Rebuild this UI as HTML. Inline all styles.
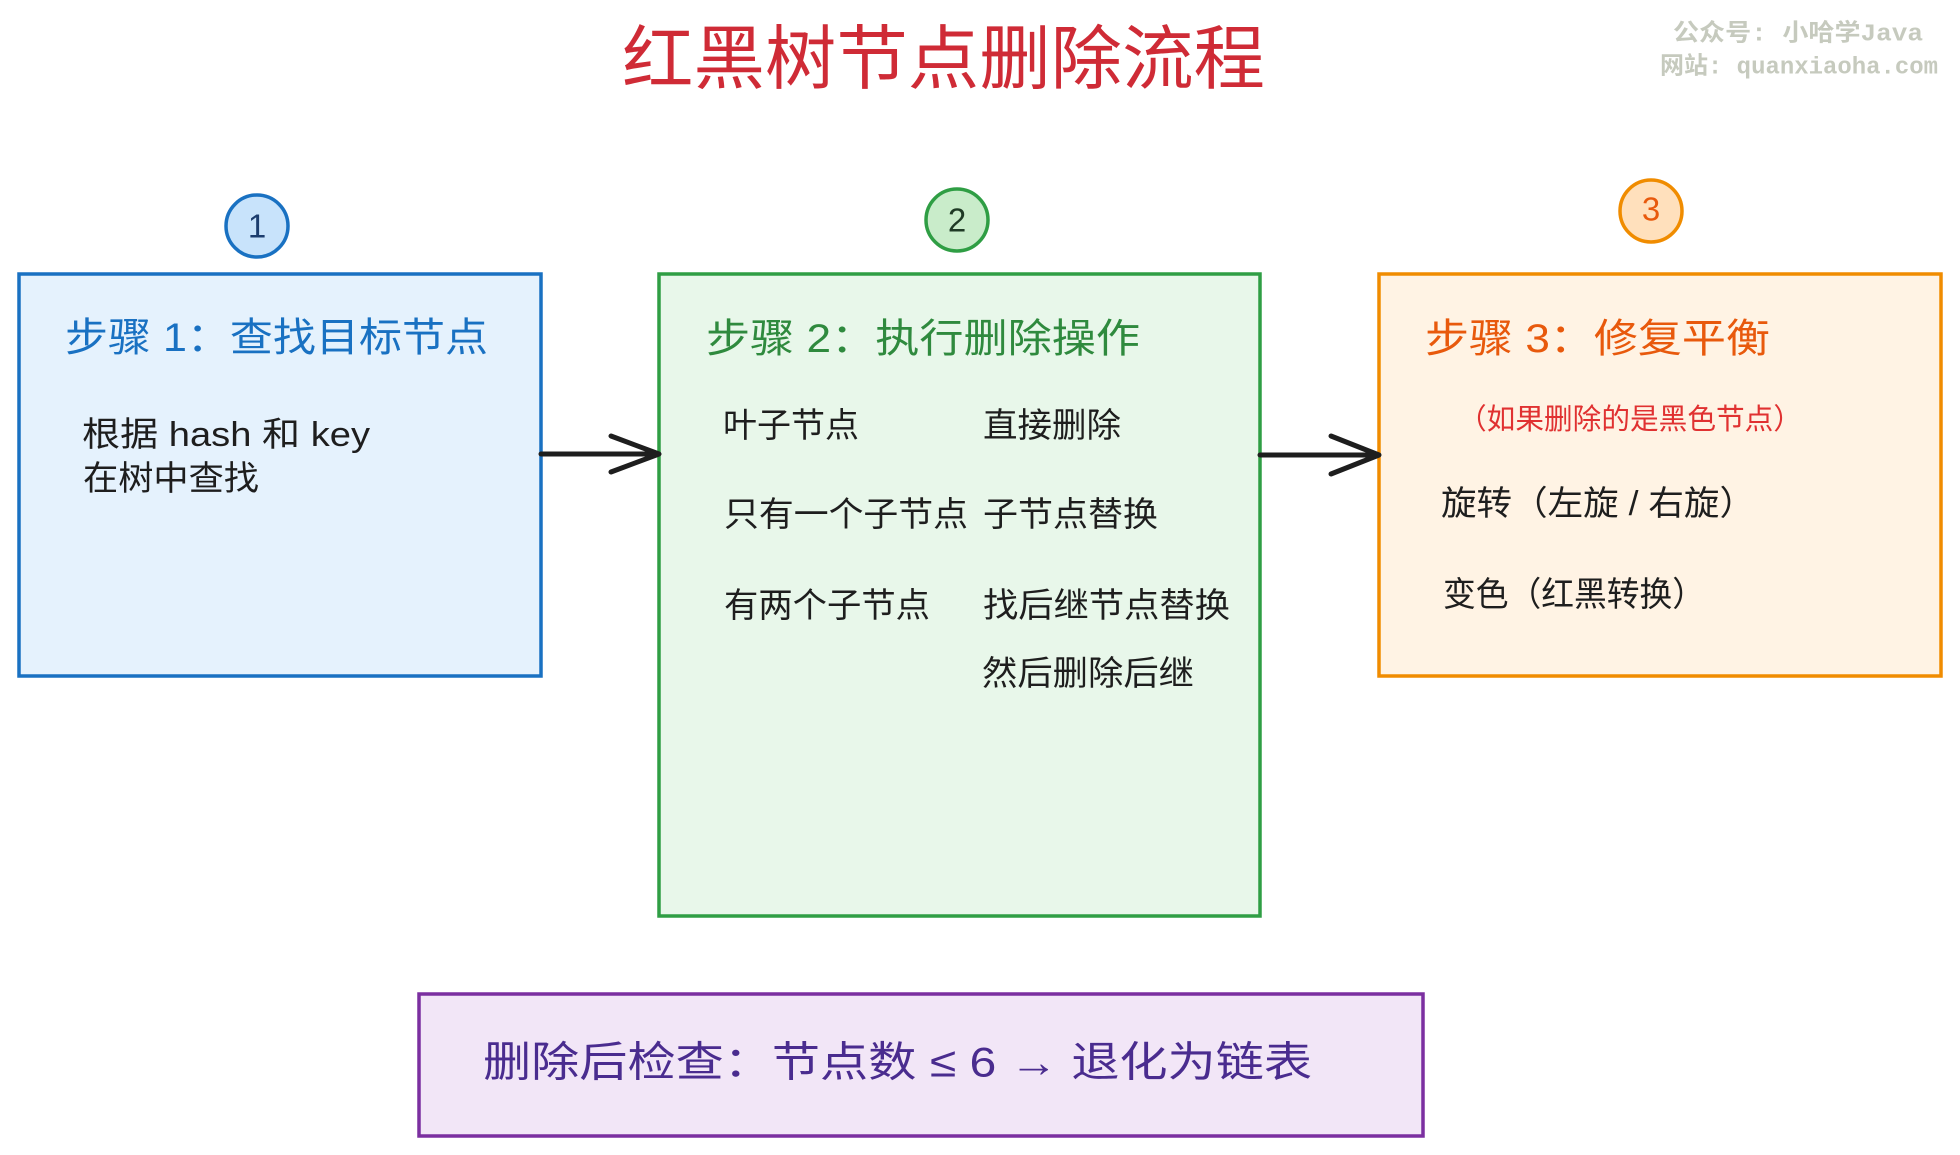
<!DOCTYPE html>
<html>
<head>
<meta charset="utf-8">
<style>
  html, body { margin: 0; padding: 0; background: #ffffff; }
  body { width: 1960px; height: 1155px; overflow: hidden; }
  svg { display: block; }
  text { font-family: "Liberation Sans", "Noto Sans CJK SC", sans-serif; dominant-baseline: central; }
</style>
</head>
<body>
<svg width="1960" height="1155" viewBox="0 0 1960 1155" xmlns="http://www.w3.org/2000/svg">
  <rect x="0" y="0" width="1960" height="1155" fill="#ffffff"/>

  <!-- Title -->
  <text x="622" y="59" font-size="70" font-weight="400" fill="#cf2b36" textLength="643" lengthAdjust="spacingAndGlyphs">红黑树节点删除流程</text>

  <!-- Watermark -->
  <text x="1673" y="35" font-size="24" font-weight="700" fill="#c6cabe" textLength="250" lengthAdjust="spacingAndGlyphs" style="font-family:'Liberation Mono','Noto Sans CJK SC',monospace">公众号: 小哈学Java</text>
  <text x="1660" y="68" font-size="24" font-weight="700" fill="#c6cabe" textLength="278" lengthAdjust="spacingAndGlyphs" style="font-family:'Liberation Mono','Noto Sans CJK SC',monospace">网站: quanxiaoha.com</text>

  <!-- Step circles -->
  <circle cx="257" cy="226" r="31" fill="#c8e3fb" stroke="#1971c2" stroke-width="3.5"/>
  <text x="257" y="226" font-size="33" fill="#1c3d6e" text-anchor="middle">1</text>
  <circle cx="957" cy="220" r="31" fill="#c9ecca" stroke="#2f9e44" stroke-width="3.5"/>
  <text x="957" y="220" font-size="33" fill="#1f3a25" text-anchor="middle">2</text>
  <circle cx="1651" cy="211" r="31" fill="#ffe0bc" stroke="#f08c00" stroke-width="3.5"/>
  <text x="1651" y="209" font-size="33" fill="#e8590c" text-anchor="middle">3</text>

  <!-- Box 1 -->
  <rect x="19" y="274" width="522" height="402" fill="#e5f2fd" stroke="#1971c2" stroke-width="3.5"/>
  <text x="65" y="338" font-size="40" fill="#1971c2" textLength="423" lengthAdjust="spacingAndGlyphs">步骤 1：查找目标节点</text>
  <text x="82" y="435" font-size="34" fill="#1e1e1e" textLength="288" lengthAdjust="spacingAndGlyphs">根据 hash 和 key</text>
  <text x="83" y="479" font-size="34" fill="#1e1e1e" textLength="176" lengthAdjust="spacingAndGlyphs">在树中查找</text>

  <!-- Box 2 -->
  <rect x="659" y="274" width="601" height="642" fill="#e8f7ea" stroke="#2f9e44" stroke-width="3.5"/>
  <text x="706" y="339" font-size="40" fill="#2f8a3e" textLength="434" lengthAdjust="spacingAndGlyphs">步骤 2：执行删除操作</text>
  <text x="723" y="426" font-size="34" fill="#1e1e1e" textLength="136" lengthAdjust="spacingAndGlyphs">叶子节点</text>
  <text x="983" y="426" font-size="34" fill="#1e1e1e" textLength="138" lengthAdjust="spacingAndGlyphs">直接删除</text>
  <text x="724" y="515" font-size="34" fill="#1e1e1e" textLength="244" lengthAdjust="spacingAndGlyphs">只有一个子节点</text>
  <text x="983" y="515" font-size="34" fill="#1e1e1e" textLength="175" lengthAdjust="spacingAndGlyphs">子节点替换</text>
  <text x="724" y="606" font-size="34" fill="#1e1e1e" textLength="206" lengthAdjust="spacingAndGlyphs">有两个子节点</text>
  <text x="983" y="606" font-size="34" fill="#1e1e1e" textLength="247" lengthAdjust="spacingAndGlyphs">找后继节点替换</text>
  <text x="982" y="674" font-size="34" fill="#1e1e1e" textLength="212" lengthAdjust="spacingAndGlyphs">然后删除后继</text>

  <!-- Box 3 -->
  <rect x="1379" y="274" width="562" height="402" fill="#fff3e4" stroke="#f08c00" stroke-width="3.5"/>
  <text x="1425" y="339" font-size="40" fill="#e8590c" textLength="345" lengthAdjust="spacingAndGlyphs">步骤 3：修复平衡</text>
  <text x="1458" y="420" font-size="29" fill="#e03131" textLength="344" lengthAdjust="spacingAndGlyphs">（如果删除的是黑色节点）</text>
  <text x="1441" y="504" font-size="34" fill="#1e1e1e" textLength="314" lengthAdjust="spacingAndGlyphs">旋转（左旋 / 右旋）</text>
  <text x="1443" y="595" font-size="34" fill="#1e1e1e" textLength="262" lengthAdjust="spacingAndGlyphs">变色（红黑转换）</text>

  <!-- Arrows -->
  <g fill="none" stroke="#1e1e1e" stroke-width="5" stroke-linecap="round" stroke-linejoin="round">
    <path d="M541 454 L656 454"/>
    <path d="M611 436 L659 454 L611 472"/>
    <path d="M1260 455 L1376 455"/>
    <path d="M1331 436 L1379 455 L1331 474"/>
  </g>

  <!-- Box 4 -->
  <rect x="419" y="994" width="1004" height="142" fill="#f2e6f7" stroke="#7b2fa0" stroke-width="3.5"/>
  <text x="483" y="1062" font-size="42" fill="#4a2c8f" textLength="829" lengthAdjust="spacingAndGlyphs">删除后检查：节点数 ≤ 6 → 退化为链表</text>
</svg>
</body>
</html>
